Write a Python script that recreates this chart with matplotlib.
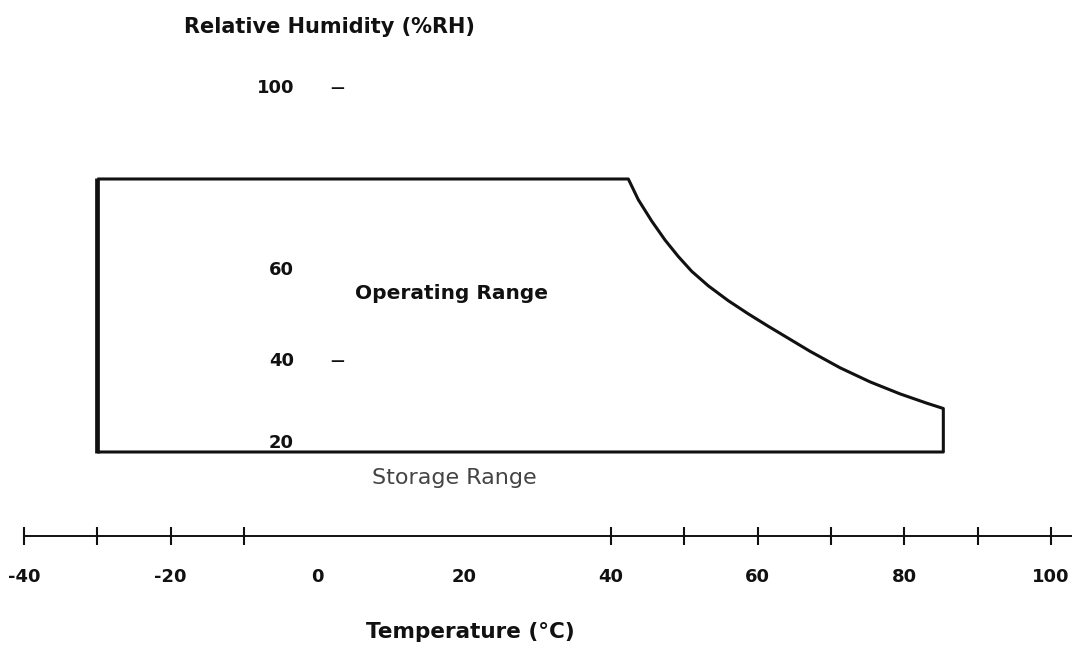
import matplotlib
matplotlib.use("Agg")
import matplotlib.pyplot as plt

# operating envelope: temperature (degC) vs relative humidity (%RH)
box_left_t = -30
box_top_rh = 80
box_bottom_rh = 20
curve_t = [42.38, 43.74, 45.57, 47.38, 49.20, 51.02, 53.29, 56.01, 58.74,
           61.46, 63.74, 67.15, 71.24, 75.33, 79.42, 83.06, 85.32]
curve_rh = [80.0, 75.45, 70.75, 66.59, 62.95, 59.71, 56.51, 53.25, 50.35,
            47.63, 45.43, 42.13, 38.51, 35.41, 32.77, 30.73, 29.56]

temp_labels = [-40, -20, 0, 20, 40, 60, 80, 100]
temp_ticks = [-40, -30, -20, -10, 40, 50, 60, 70, 80, 90, 100]
rh_labels = [100, 60, 40, 20]
rh_dashes = [100, 40]

ink = "#111111"

fig = plt.figure(figsize=(10.72, 6.48), dpi=100)
ax = fig.add_axes([0, 0, 1, 1])
ax.set_xlim(-43.27, 102.86)
ax.set_ylim(-23.08, 119.34)

# envelope outline (top, curve, right side, bottom)
xs = [box_left_t] + curve_t + [curve_t[-1], box_left_t]
ys = [box_top_rh] + curve_rh + [box_bottom_rh, box_bottom_rh]
ax.plot(xs, ys, color=ink, lw=2.2, solid_joinstyle="round", solid_capstyle="butt")
ax.plot([box_left_t, box_left_t], [box_bottom_rh - 0.3, box_top_rh + 0.3],
        color=ink, lw=3.4, solid_capstyle="butt")

# temperature axis
for side in ["left", "right", "top"]:
    ax.spines[side].set_visible(False)
ax.spines["bottom"].set_position(("data", 1.54))
ax.spines["bottom"].set_bounds(-40, 102.86)
ax.spines["bottom"].set_linewidth(1.4)
ax.spines["bottom"].set_color(ink)
ax.xaxis.remove_overlapping_locs = False
ax.set_xticks(temp_labels)
ax.set_xticklabels([str(v) for v in temp_labels])
ax.set_xticks(temp_ticks, minor=True)
ax.tick_params(axis="x", which="major", length=0, pad=23, labelsize=13, colors=ink)
ax.tick_params(axis="x", which="minor", direction="inout", length=13, width=1.5, color=ink)
for lbl in ax.get_xticklabels():
    lbl.set_fontweight("bold")
ax.set_yticks([])

# humidity labels (no drawn axis, only text)
for v in rh_labels:
    va = "bottom" if v == box_bottom_rh else "center"
    ax.text(-3.2, v, str(v), ha="right", va=va, fontsize=13, fontweight="bold", color=ink)
for v in rh_dashes:
    ax.text(2.7, v, "\u2014", ha="center", va="center", fontsize=10, fontweight="bold", color=ink)

ax.text(1.6, 113.4, "Relative Humidity (%RH)", ha="center", va="center",
        fontsize=15, fontweight="bold", color=ink)
ax.text(18.3, 54.9, "Operating Range", ha="center", va="center",
        fontsize=14.5, fontweight="bold", color=ink)
ax.text(18.6, 14.3, "Storage Range", ha="center", va="center",
        fontsize=16, color="#444444")
ax.text(20.8, -19.6, "Temperature (\u00b0C)", ha="center", va="center",
        fontsize=15.5, fontweight="bold", color=ink)

fig.savefig("out.png", dpi=100, facecolor="white")
